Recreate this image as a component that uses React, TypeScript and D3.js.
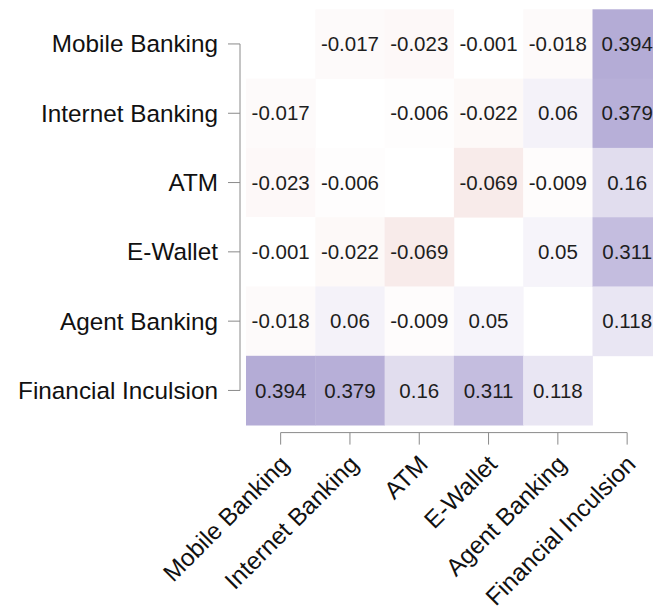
import React from "react";
import * as d3 from "d3";

// Variables of the correlation matrix
const variables = [
  "Mobile Banking",
  "Internet Banking",
  "ATM",
  "E-Wallet",
  "Agent Banking",
  "Financial Inculsion",
];

// Pairwise correlation rows (null on the diagonal, left blank)
const mobileBanking = [null, -0.017, -0.023, -0.001, -0.018, 0.394];
const internetBanking = [-0.017, null, -0.006, -0.022, 0.06, 0.379];
const atm = [-0.023, -0.006, null, -0.069, -0.009, 0.16];
const eWallet = [-0.001, -0.022, -0.069, null, 0.05, 0.311];
const agentBanking = [-0.018, 0.06, -0.009, 0.05, null, 0.118];
const financialInclusion = [0.394, 0.379, 0.16, 0.311, 0.118, null];

const rows: (number | null)[][] = [
  mobileBanking,
  internetBanking,
  atm,
  eWallet,
  agentBanking,
  financialInclusion,
];

const WIDTH = 653;
const HEIGHT = 612;
const FONT = "'Liberation Sans', Arial, Helvetica, sans-serif";

export default function App() {
  const left = 246;
  const top = 9.3;
  const cell = 69.3;

  const x = d3
    .scaleBand<string>()
    .domain(variables)
    .range([left, left + cell * variables.length])
    .padding(0);
  const y = d3
    .scaleBand<string>()
    .domain(variables)
    .range([top, top + cell * variables.length])
    .padding(0);

  // Diverging fill: reds for negative, white at zero, purples for positive
  const color = d3
    .scaleLinear<string>()
    .domain([-0.25, 0, 1])
    .range(["#e6b7b3", "#ffffff", "#412c97"])
    .clamp(true);

  const bw = x.bandwidth();
  const bottom = top + cell * variables.length;
  const axisY = bottom + 7.5;
  const axisX = left - 6;
  const tickLen = 12;
  const axisColor = "#8a8a8a";

  const cells = rows.flatMap((row, i) =>
    row.map((v, j) => ({ r: variables[i], c: variables[j], v }))
  );

  const xc = (k: string) => (x(k) as number) + bw / 2;
  const yc = (k: string) => (y(k) as number) + bw / 2;

  return (
    <div style={{ position: "fixed", left: 0, top: 0 }}>
      <svg width={WIDTH} height={HEIGHT} style={{ display: "block", background: "#fff" }}>
        <rect width={WIDTH} height={HEIGHT} fill="#ffffff" />
        <g>
          {cells
            .filter((d) => d.v !== null)
            .map((d) => (
              <rect
                key={`${d.r}-${d.c}`}
                x={x(d.c)}
                y={y(d.r)}
                width={bw + 0.4}
                height={y.bandwidth() + 0.4}
                fill={color(d.v as number)}
              />
            ))}
        </g>
        <g fontFamily={FONT} fontSize={20.5} fill="#1e1e1e" textAnchor="middle">
          {cells
            .filter((d) => d.v !== null)
            .map((d) => (
              <text
                key={`t-${d.r}-${d.c}`}
                x={xc(d.c)}
                y={yc(d.r)}
                dy="0.35em"
              >
                {String(d.v)}
              </text>
            ))}
        </g>
        {/* left axis */}
        <g stroke={axisColor} strokeWidth={1} fill="none">
          <line
            x1={axisX}
            x2={axisX}
            y1={yc(variables[0])}
            y2={yc(variables[variables.length - 1])}
          />
          {variables.map((v) => (
            <line key={`ly-${v}`} x1={axisX - tickLen} x2={axisX} y1={yc(v)} y2={yc(v)} />
          ))}
        </g>
        <g fontFamily={FONT} fontSize={24.3} fill="#111" textAnchor="end">
          {variables.map((v) => (
            <text key={`yl-${v}`} x={axisX - tickLen - 10} y={yc(v)} dy="0.35em">
              {v}
            </text>
          ))}
        </g>
        {/* bottom axis */}
        <g stroke={axisColor} strokeWidth={1} fill="none">
          <line
            x1={xc(variables[0])}
            x2={xc(variables[variables.length - 1])}
            y1={axisY}
            y2={axisY}
          />
          {variables.map((v) => (
            <line key={`bx-${v}`} x1={xc(v)} x2={xc(v)} y1={axisY} y2={axisY + tickLen} />
          ))}
        </g>
        <g fontFamily={FONT} fontSize={24.3} fill="#111" textAnchor="end">
          {variables.map((v) => (
            <text
              key={`xl-${v}`}
              transform={`translate(${xc(v) + 4},${axisY + 27}) rotate(-45)`}
              dy="0.35em"
            >
              {v}
            </text>
          ))}
        </g>
      </svg>
    </div>
  );
}
